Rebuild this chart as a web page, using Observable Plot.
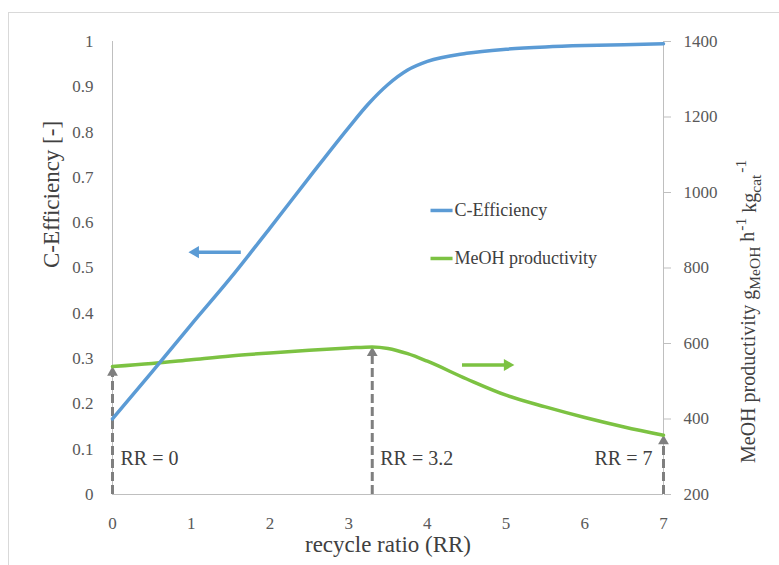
<!DOCTYPE html>
<html><head><meta charset="utf-8">
<script src="https://cdn.jsdelivr.net/npm/d3@7"></script>
<script src="https://cdn.jsdelivr.net/npm/@observablehq/plot@0.6"></script>
<style>
body{margin:0;background:#fff;}
#frame{position:absolute;left:8px;top:12px;width:800px;height:600px;border:1px solid #d9d9d9;box-sizing:border-box;}
#chart{position:absolute;left:0;top:0;}
#chart svg, #chart svg text{font-family:"Liberation Serif",serif !important;}
</style></head><body><div id="frame"></div><div id="chart"></div>
<script>
// ---- data ----
const rrEff   = [0,0.5,1,1.5,2,2.5,3,3.25,3.5,3.75,4,4.5,5,5.5,6,6.5,7];
const cEff    = [0.167,0.27,0.375,0.478,0.588,0.70,0.81,0.862,0.905,0.937,0.956,0.974,0.983,0.988,0.991,0.993,0.995];
const rrProd  = [0,0.5,1,1.5,2,2.5,3,3.3,3.5,3.75,4,4.5,5,5.5,6,6.5,7];
const meohProd= [539,547,557,567,575,582,588,591,587,573,553,506,463,432,404,379,357];
const xTicks  = [0,1,2,3,4,5,6,7];
const leftTicks  = [0,0.1,0.2,0.3,0.4,0.5,0.6,0.7,0.8,0.9,1];
const rightTicks = [200,400,600,800,1000,1200,1400];
const markRR     = [0,3.3,7];
const markProd   = [539,591,357];
const markLabels = ["RR = 0","RR = 3.2","RR = 7"];
const seriesNames = ["C-Efficiency","MeOH productivity"];
const colors = ["#5b9bd5","#7cc242"];
const gray = "#7f7f7f";
const FONT = "Liberation Serif";

// secondary axis mapping (productivity -> left scale)
const p2l = d3.scaleLinear([200,1400],[0,1]);

const effData  = rrEff.map((x,i)=>({x, y:cEff[i]}));
const prodData = rrProd.map((x,i)=>({x, y:p2l(meohProd[i])}));
const marks = markRR.map((x,i)=>({x, y:p2l(markProd[i]), label:markLabels[i]}));

// annotation positions (data coords)
const legendRows = [{x1:4.04,x2:4.32,y:0.627,name:seriesNames[0],c:colors[0]},
                    {x1:4.04,x2:4.32,y:0.521,name:seriesNames[1],c:colors[1]}];
const arrowL = [{x1:1.63,x2:1.08,tip:0.99,y:0.535,c:colors[0]}];
const arrowR = [{x1:4.44,x2:5.0,tip:5.08,y:0.286,c:colors[1]}];

const plot = Plot.plot({
  width:779, height:565,
  marginLeft:112, marginRight:116, marginTop:41, marginBottom:71,
  x:{domain:[0,7]},
  y:{domain:[0,1]},
  style:{fontFamily:FONT, color:"#595959", background:"transparent", overflow:"visible"},
  marks:[
    Plot.ruleX([0,7],{stroke:"#bfbfbf"}),
    Plot.ruleY([0],{stroke:"#bfbfbf"}),
    Plot.axisX(xTicks,{tickSize:0, tickPadding:22, fontSize:17, fontFamily:FONT, label:null, fill:"#595959"}),
    Plot.axisY(leftTicks,{anchor:"left", tickSize:0, tickPadding:19, fontSize:17, fontFamily:FONT, label:null, fill:"#595959", tickFormat:d=>String(d)}),
    Plot.axisY(rightTicks.map(p2l),{anchor:"right", tickSize:7, tickPadding:13, fontSize:17, fontFamily:FONT, label:null, stroke:"#bfbfbf", fill:"#595959", tickFormat:d=>String(Math.round(p2l.invert(d)))}),
    // dashed marker arrows
    Plot.ruleX(marks,{x:"x", y1:0, y2:d=>d.y-0.018, stroke:gray, strokeWidth:3, strokeDasharray:"9,4"}),
    Plot.dot(marks,{x:"x", y:"y", symbol:"triangle", r:4, fill:gray, stroke:"none", dy:6}),
    Plot.text(marks.slice(0,2),{x:"x", y:0.079, text:"label", fontSize:20, fontFamily:FONT, fill:"#404040", textAnchor:"start", dx:8}),
    Plot.text(marks.slice(2),{x:"x", y:0.079, text:"label", fontSize:20, fontFamily:FONT, fill:"#404040", textAnchor:"end", dx:-11}),
    // series
    Plot.line(prodData,{x:"x", y:"y", stroke:colors[1], strokeWidth:3.5, curve:"monotone-x"}),
    Plot.line(effData,{x:"x", y:"y", stroke:colors[0], strokeWidth:3.5, curve:"monotone-x"}),
    // axis pointer arrows
    Plot.link(arrowL.concat(arrowR),{x1:"x1", x2:"x2", y1:"y", y2:"y", stroke:"c", strokeWidth:3.5}),
    Plot.dot(arrowL,{x:"tip", y:"y", symbol:"triangle", r:4.5, fill:"c", stroke:"none", rotate:-90, dx:5}),
    Plot.dot(arrowR,{x:"tip", y:"y", symbol:"triangle", r:4.5, fill:"c", stroke:"none", rotate:90, dx:-5}),
    // legend
    Plot.link(legendRows,{x1:"x1", x2:"x2", y1:"y", y2:"y", stroke:"c", strokeWidth:3.5}),
    Plot.text(legendRows,{x:"x2", y:"y", text:"name", textAnchor:"start", dx:2, fontSize:18, fontFamily:FONT, fill:"#404040"}),
    // axis titles
    Plot.text(["C-Efficiency [-]"],{frameAnchor:"left", rotate:-90, dx:-61, fontSize:23, fontFamily:FONT, fill:"#404040"}),
    Plot.text(["recycle ratio (RR)"],{frameAnchor:"bottom", dy:57, fontSize:23, fontFamily:FONT, fill:"#404040"})
  ]
});
document.getElementById("chart").appendChild(plot);

// right axis title with sub/superscripts
const svg = d3.select(plot);
const t = svg.append("text")
  .attr("transform","translate(755,463) rotate(-90)")
  .attr("text-anchor","start")
  .attr("font-size",20)
  .attr("fill","#404040")
  .attr("font-family",FONT);
t.append("tspan").text("MeOH productivity g");
t.append("tspan").attr("font-size",15.5).attr("dy","0.3em").text("MeOH");
t.append("tspan").attr("dy","-0.3em").text(" h");
t.append("tspan").attr("font-size",15.5).attr("dy","-0.5em").attr("dx","1").text("-1");
t.append("tspan").attr("dy","0.5em").text(" kg");
t.append("tspan").attr("font-size",15.5).attr("dy","0.3em").text("cat");
t.append("tspan").attr("font-size",15.5).attr("dy","-0.95em").attr("dx","2").text("-1");
</script></body></html>
